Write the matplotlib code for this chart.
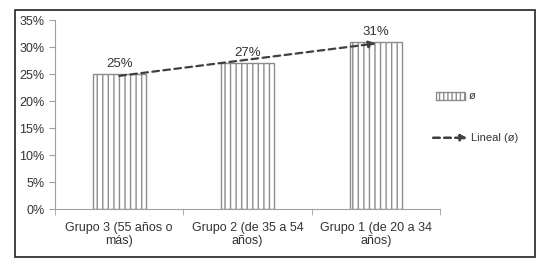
import numpy as np
import matplotlib.pyplot as plt
from matplotlib.patches import Rectangle

plt.rcParams['font.family'] = ['Liberation Sans', 'DejaVu Sans']
plt.rcParams['hatch.color'] = '#9a9a9a'
plt.rcParams['hatch.linewidth'] = 1.0

# Data
categories = ['Grupo 3 (55 años o\nmás)', 'Grupo 2 (de 35 a 54\naños)', 'Grupo 1 (de 20 a 34\naños)']
values = [25, 27, 31]
labels = ['25%', '27%', '31%']

fig = plt.figure(figsize=(5.4, 2.64), dpi=100)
ax = fig.add_axes([0.102, 0.208, 0.713, 0.716])

x = np.arange(len(categories))
ax.bar(x, values, width=0.41, color='white', edgecolor='#8c8c8c',
       hatch='|||', linewidth=1.0)
for xi, v, lab in zip(x, values, labels):
    ax.text(xi, v + 0.7, lab, ha='center', va='bottom', fontsize=9.5, color='#333333')

# Linear trendline
m, b = np.polyfit(x, values, 1)
y0, y1 = m * x[0] + b, m * x[-1] + b
ax.annotate('', xy=(x[-1], y1), xytext=(x[0], y0),
            arrowprops=dict(arrowstyle='-|>', linestyle=(0, (3, 2)), color='#404040',
                            lw=1.6, mutation_scale=10, shrinkA=0, shrinkB=0))

ax.set_xlim(-0.5, 2.5)
ax.set_ylim(0, 35)
ax.set_yticks(range(0, 36, 5))
ax.set_yticklabels([f'{t}%' for t in range(0, 36, 5)])
ax.set_xticks(x)
ax.set_xticklabels(categories, multialignment='center')
ax.set_xticks([-0.5, 0.5, 1.5, 2.5], minor=True)
ax.tick_params(axis='x', which='major', length=0, labelsize=9, pad=9, colors='#333333')
ax.tick_params(axis='x', which='minor', length=4, color='#a0a0a0')
ax.tick_params(axis='y', length=4, color='#a0a0a0', labelsize=9, labelcolor='#333333')
for s in ['top', 'right']:
    ax.spines[s].set_visible(False)
for s in ['left', 'bottom']:
    ax.spines[s].set_color('#a0a0a0')

# Legend (drawn by hand in figure coordinates)
fig.patches.append(Rectangle((0.808, 0.623), 0.053, 0.03, transform=fig.transFigure,
                             facecolor='white', edgecolor='#8c8c8c', hatch='||||', lw=1.0))
fig.text(0.868, 0.638, 'ø', fontsize=8, va='center', color='#333333')
fig.add_artist(plt.annotate('', xy=(0.865, 0.478), xytext=(0.802, 0.478),
                            xycoords='figure fraction',
                            arrowprops=dict(arrowstyle='-|>', linestyle=(0, (3, 2)),
                                            color='#404040', lw=1.6, mutation_scale=9,
                                            shrinkA=0, shrinkB=0)))
fig.text(0.873, 0.478, 'Lineal (ø)', fontsize=8, va='center', color='#333333')

# Outer border
fig.patches.append(Rectangle((0.028, 0.027), 0.963, 0.936, transform=fig.transFigure,
                             fill=False, edgecolor='#222222', linewidth=1.2))

fig.savefig('out.png', dpi=100)
